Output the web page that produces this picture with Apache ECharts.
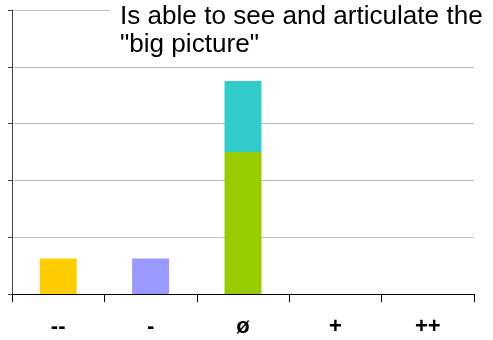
<!DOCTYPE html>
<html>
<head>
<meta charset="utf-8">
<style>
  html, body { margin: 0; padding: 0; background: #fff; }
  #chart { width: 493px; height: 340px; }
</style>
<script src="https://cdn.jsdelivr.net/npm/echarts@6/dist/echarts.min.js"></script>
</head>
<body>
<div id="chart"></div>
<script>
// Rating scale categories
const categories = ['--', '-', 'ø', '+', '++'];
// Lower stacked segment per category and its colour
const baseValues = [1, 1, 4, 0, 0];
const baseColors = ['#FFCC00', '#9999FF', '#99CC00', '#99CC00', '#99CC00'];
// Upper stacked segment per category
const topValues = [0, 0, 2, 0, 0];
const topColor = '#33CCCC';
const titleText = 'Is able to see and articulate the\n"big picture"';

const chart = echarts.init(document.getElementById('chart'), null, { renderer: 'canvas' });

chart.setOption({
  animation: false,
  backgroundColor: '#fff',
  title: {
    text: titleText,
    left: 110,
    top: 0,
    padding: [3, 10, 4, 10],
    backgroundColor: '#fff',
    textStyle: {
      fontFamily: 'Liberation Sans, Arial, sans-serif',
      fontSize: 26.1,
      fontWeight: 'normal',
      lineHeight: 28,
      color: '#000'
    }
  },
  grid: { left: 12, right: 19, top: 10, bottom: 46, containLabel: false },
  xAxis: {
    type: 'category',
    data: categories,
    boundaryGap: true,
    axisLine: { lineStyle: { color: '#000', width: 1 } },
    axisTick: { show: true, length: 8, lineStyle: { color: '#000' } },
    axisLabel: {
      margin: 22,
      fontFamily: 'Liberation Sans, Arial, sans-serif',
      fontSize: 22,
      fontWeight: 'bold',
      color: '#000'
    },
    splitLine: { show: false }
  },
  yAxis: {
    type: 'value',
    min: 0,
    max: 8,
    interval: 1.6,
    axisLine: { show: true, lineStyle: { color: '#444', width: 1 } },
    axisTick: { show: true, inside: false, length: 4, lineStyle: { color: '#444' } },
    axisLabel: { show: false },
    splitLine: { show: true, lineStyle: { color: '#bfbfbf', width: 1 } }
  },
  series: [
    {
      type: 'bar',
      stack: 'total',
      barWidth: '40%',
      data: baseValues.map((v, i) => ({ value: v, itemStyle: { color: baseColors[i] } }))
    },
    {
      type: 'bar',
      stack: 'total',
      barWidth: '40%',
      itemStyle: { color: topColor },
      data: topValues
    }
  ]
});
</script>
</body>
</html>
